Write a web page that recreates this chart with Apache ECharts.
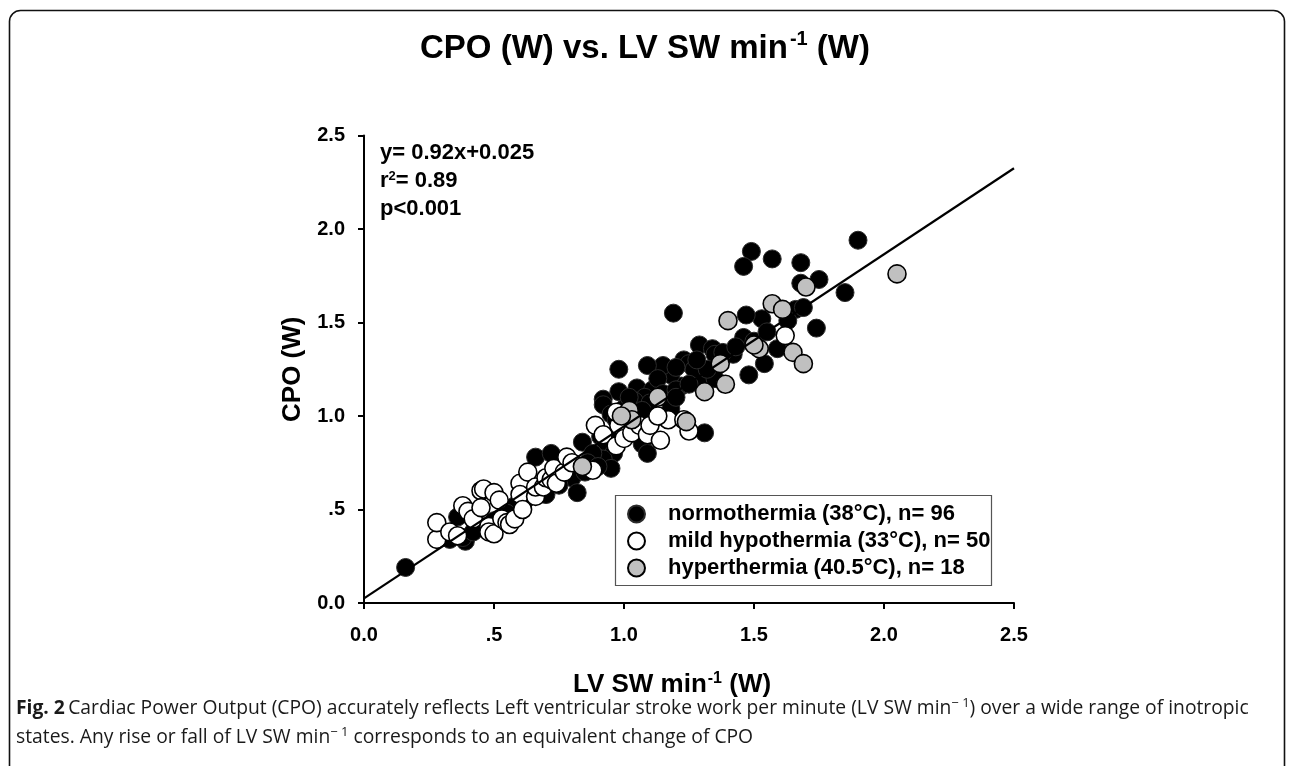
<!DOCTYPE html>
<html><head><meta charset="utf-8">
<script src="https://cdn.jsdelivr.net/npm/echarts@6/dist/echarts.min.js"></script>
<style>html,body{margin:0;padding:0;background:#fff}#c{width:1290px;height:766px}</style>
</head><body><div id="c"></div>
<script>
// ---- data ----
const xTickLabels = ['0.0', '.5', '1.0', '1.5', '2.0', '2.5'];
const yTickLabels = ['0.0', '.5', '1.0', '1.5', '2.0', '2.5'];
const seriesNames = ['normothermia (38°C), n= 96', 'mild hypothermia (33°C), n= 50', 'hyperthermia (40.5°C), n= 18'];
const normothermia = [
  [1.90,1.94],[1.49,1.88],[1.57,1.84],[1.46,1.80],[1.68,1.82],[1.75,1.73],[1.68,1.71],[1.85,1.66],[1.66,1.57],[1.53,1.52],
  [1.47,1.54],[1.74,1.47],[1.59,1.36],[1.46,1.42],[1.54,1.28],[1.48,1.22],[1.19,1.55],[1.29,1.38],[1.34,1.36],[1.35,1.33],
  [1.42,1.33],[1.30,1.21],[1.22,1.16],[1.18,1.22],[1.23,1.30],[1.15,1.27],[1.09,1.27],[0.98,1.25],[0.98,1.13],[1.05,1.15],
  [1.11,1.14],[0.92,1.09],[0.92,1.06],[0.95,1.01],[0.97,0.98],[0.91,0.89],[0.84,0.86],[0.93,0.86],[0.96,0.80],[0.92,0.77],
  [0.95,0.72],[1.07,0.85],[1.09,0.80],[0.66,0.78],[0.72,0.80],[0.80,0.67],[0.82,0.59],[0.78,0.76],[0.16,0.19],[0.33,0.34],
  [0.39,0.33],[0.38,0.35],[0.36,0.46],[1.31,0.91],[1.25,1.28],[1.27,1.25],[1.20,1.26],[1.13,1.20],[1.08,1.10],[1.04,1.08],
  [1.00,1.04],[1.02,1.10],[1.10,1.07],[1.15,1.12],[1.20,1.14],[1.25,1.17],[1.35,1.20],[1.32,1.25],[1.28,1.30],[1.38,1.34],
  [1.43,1.37],[1.50,1.40],[1.55,1.45],[1.63,1.51],[1.69,1.58],[1.00,0.98],[1.03,0.95],[0.98,0.92],[1.05,1.00],[1.12,0.99],
  [1.18,1.04],[1.20,1.10],[1.07,1.03],[0.88,0.80],[0.86,0.75],[0.90,0.73],[0.85,0.70],[0.75,0.63],[0.70,0.58],[0.65,0.58],
  [0.62,0.55],[0.58,0.52],[0.55,0.48],[0.50,0.44],[0.45,0.41],[0.42,0.38]
];
const mildHypothermia = [
  [0.28,0.34],[0.28,0.43],[0.33,0.38],[0.36,0.36],[0.38,0.52],[0.40,0.49],[0.42,0.45],[0.45,0.60],[0.45,0.51],[0.46,0.61],
  [0.48,0.41],[0.48,0.38],[0.50,0.37],[0.50,0.59],[0.52,0.55],[0.53,0.45],[0.55,0.43],[0.56,0.42],[0.58,0.45],[0.60,0.64],
  [0.60,0.58],[0.61,0.50],[0.63,0.70],[0.66,0.57],[0.66,0.62],[0.69,0.62],[0.70,0.67],[0.72,0.66],[0.73,0.72],[0.74,0.64],
  [0.77,0.70],[0.78,0.78],[0.80,0.75],[0.88,0.71],[0.89,0.95],[0.92,0.90],[0.97,0.84],[0.98,0.95],[1.00,0.88],[1.03,0.91],
  [1.06,0.95],[1.09,0.90],[1.10,0.95],[1.14,0.87],[1.17,0.98],[1.23,0.98],[1.25,0.92],[1.13,1.00],[1.62,1.43],[0.97,1.02]
];
const hyperthermia = [
  [2.05,1.76],[1.70,1.69],[1.57,1.60],[1.61,1.57],[1.52,1.36],[1.65,1.34],[1.69,1.28],[1.40,1.51],[1.37,1.28],[1.39,1.17],
  [1.31,1.13],[1.13,1.10],[1.24,0.97],[1.02,1.03],[1.03,0.98],[0.84,0.73],[0.99,1.00],[1.50,1.38]
];
const fitSlope = 0.92, fitIntercept = 0.025;
const fitRange = [0, 2.5];
const statLines = ['y= 0.92x+0.025', 'r', '2', '= 0.89', 'p<0.001'];

// ---- chart ----
const chart = echarts.init(document.getElementById('c'), null, {renderer: 'canvas'});
const FONT = 'Liberation Sans, Arial, sans-serif';
const CAP = 'Open Sans, sans-serif';
const tickFmt = labels => v => labels[Math.round(v / 0.5)] ?? '';
const axisCommon = {
  min: 0, max: 2.5, interval: 0.5,
  splitLine: {show: false},
  axisLine: {show: true, onZero: false, lineStyle: {color: '#000', width: 2}},
  axisTick: {show: true, inside: false, length: 6, lineStyle: {color: '#000', width: 2}},
};
chart.setOption({
  animation: false,
  backgroundColor: '#fff',
  title: {
    left: 'center', top: 24,
    text: '{n|CPO (W) vs. LV SW min}{s|-1}{n| (W)}',
    textStyle: {rich: {
      n: {fontFamily: FONT, fontWeight: 'bold', fontSize: 33, color: '#000', lineHeight: 40},
      s: {fontFamily: FONT, fontWeight: 'bold', fontSize: 20, color: '#000', verticalAlign: 'top', lineHeight: 40, padding: [0, 0, 14, 2]}
    }}
  },
  grid: {left: 364, right: 276, top: 135.5, bottom: 163, containLabel: false},
  xAxis: Object.assign({}, axisCommon, {
    type: 'value',
    name: '{n|LV SW min}{s|-1}{n| (W)}',
    nameLocation: 'middle', nameGap: 66,
    nameTextStyle: {padding: [0, 34, 0, 0], rich: {
      n: {fontFamily: FONT, fontWeight: 'bold', fontSize: 26, color: '#000', lineHeight: 32},
      s: {fontFamily: FONT, fontWeight: 'bold', fontSize: 16, color: '#000', lineHeight: 32, padding: [0, 0, 12, 1]}
    }},
    axisLabel: {formatter: tickFmt(xTickLabels), fontFamily: FONT, fontWeight: 'bold', fontSize: 20, color: '#000', margin: 22}
  }),
  yAxis: Object.assign({}, axisCommon, {
    type: 'value',
    name: 'CPO (W)',
    nameLocation: 'middle', nameGap: 51,
    nameTextStyle: {fontFamily: FONT, fontWeight: 'bold', fontSize: 26, color: '#000'},
    axisLabel: {formatter: tickFmt(yTickLabels), fontFamily: FONT, fontWeight: 'bold', fontSize: 20, color: '#000', margin: 19}
  }),
  legend: {
    orient: 'vertical', left: 622, top: 498,
    itemWidth: 17, itemHeight: 17, itemGap: 5,
    data: seriesNames,
    textStyle: {fontFamily: FONT, fontWeight: 'bold', fontSize: 22, color: '#000', padding: [0, 0, 0, 18]}
  },
  series: [
    {name: seriesNames[0], type: 'scatter', data: normothermia, symbol: 'circle', symbolSize: 18, z: 2,
     itemStyle: {color: '#000', borderColor: '#2b2b2b', borderWidth: 1, opacity: 1}},
    {name: seriesNames[1], type: 'scatter', data: mildHypothermia, symbol: 'circle', symbolSize: 18, z: 3,
     itemStyle: {color: '#fff', borderColor: '#000', borderWidth: 1.6, opacity: 1}},
    {name: seriesNames[2], type: 'scatter', data: hyperthermia, symbol: 'circle', symbolSize: 18, z: 4,
     itemStyle: {color: '#c0c0c0', borderColor: '#000', borderWidth: 1.6, opacity: 1}},
    {name: 'fit', type: 'line', z: 5, showSymbol: false, symbol: 'none', silent: true,
     data: fitRange.map(x => [x, fitSlope * x + fitIntercept]),
     lineStyle: {color: '#000', width: 2.2}}
  ],
  graphic: [
    {type: 'rect', shape: {x: 9.5, y: 10.5, width: 1275, height: 800, r: 11}, style: {fill: 'none', stroke: '#111', lineWidth: 1.6}, silent: true, z: -10},
    {type: 'rect', shape: {x: 615.5, y: 495.5, width: 376, height: 90}, style: {fill: 'none', stroke: '#555', lineWidth: 1.2}, silent: true},
    {type: 'text', left: 380, top: 142, silent: true, style: {
      text: '{t|' + statLines[0] + '}\n{t|' + statLines[1] + '}{s|' + statLines[2] + '}{t|' + statLines[3] + '}\n{t|' + statLines[4] + '}',
      rich: {
        t: {fontFamily: FONT, fontWeight: 'bold', fontSize: 22, fill: '#000', lineHeight: 28},
        s: {fontFamily: FONT, fontWeight: 'bold', fontSize: 13, fill: '#000', lineHeight: 28, padding: [0, 0, 10, 0]}
      }
    }},
    {type: 'text', left: 16, top: 697, silent: true, style: {
      text: '{b|Fig. 2} {r|Cardiac Power Output (CPO) accurately reflects Left ventricular stroke work per minute (LV SW min}{s|− 1}{r|) over a wide range of inotropic}\n{r|states. Any rise or fall of LV SW min}{s|− 1}{r| corresponds to an equivalent change of CPO}',
      rich: {
        b: {fontFamily: CAP, fontWeight: 'bold', fontSize: 19.3, fill: '#1a1a1a', lineHeight: 29},
        r: {fontFamily: CAP, fontSize: 19.3, fill: '#1a1a1a', lineHeight: 29},
        s: {fontFamily: CAP, fontSize: 13, fill: '#1a1a1a', lineHeight: 29, padding: [0, 0, 10, 0]}
      }
    }}
  ]
});
</script>
</body></html>
